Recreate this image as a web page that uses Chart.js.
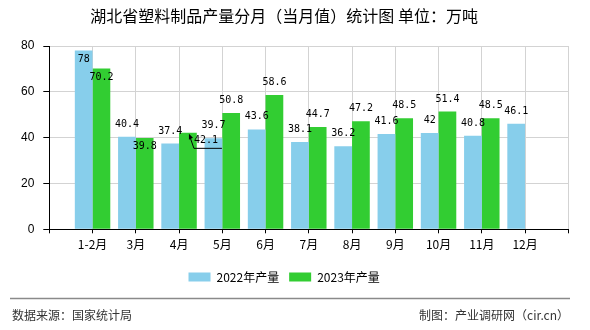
<html>
<head>
<meta charset="utf-8">
<script src="https://cdn.jsdelivr.net/npm/chart.js"></script>
<style>
  body { margin: 0; background: #fff; }
  #wrap { width: 590px; height: 330px; }
</style>
</head>
<body>
<div id="wrap"><canvas id="myChart" width="590" height="330"></canvas></div>
<script>
// months shown on the x axis
var categories = ['1-2月', '3月', '4月', '5月', '6月', '7月', '8月', '9月', '10月', '11月', '12月'];
// 湖北省塑料制品产量, 万吨
var output2022 = [78, 40.4, 37.4, 39.7, 43.6, 38.1, 36.2, 41.6, 42, 40.8, 46.1];
var output2023 = [70.2, 39.8, 42.1, 50.8, 58.6, 44.7, 47.2, 48.5, 51.4, 48.5, null];
var yTicks = [0, 20, 40, 60, 80];

// empty slot at both ends so the months sit on the grid lines
var labels = [''].concat(categories, ['']);
var pad = function(arr) { return [null].concat(arr, [null]); };

var cjk = '"Noto Sans CJK SC", "Noto Sans", sans-serif';

// value labels above the bars (some pushed inside / moved aside like the original)
var valueLabels = {
  id: 'valueLabels',
  afterDatasetsDraw: function(chart) {
    var ctx = chart.ctx;
    ctx.save();
    ctx.font = '10px "DejaVu Sans Mono", monospace';
    ctx.fillStyle = '#000';
    ctx.textAlign = 'center';
    ctx.textBaseline = 'middle';
    chart.data.datasets.forEach(function(ds, di) {
      var meta = chart.getDatasetMeta(di);
      meta.data.forEach(function(bar, i) {
        var v = ds.data[i];
        if (v === null || v === undefined) return;
        var place = ds.labelPlace[i - 1] || 'above';
        var x = bar.x, y = bar.y;
        if (place === 'inside') {
          ctx.fillText(String(v), x, y + 8.5);
        } else if (place === 'leader') {
          ctx.fillText(String(v), x + 18, y + 8);
          ctx.strokeStyle = '#000';
          ctx.lineWidth = 1;
          ctx.beginPath();
          ctx.moveTo(x + 2, y + 4);
          ctx.lineTo(x + 6, y + 15.5);
          ctx.lineTo(x + 34, y + 15.5);
          ctx.stroke();
          ctx.beginPath();
          ctx.moveTo(x + 1, y + 1);
          ctx.lineTo(x + 5, y + 5);
          ctx.lineTo(x + 1, y + 7);
          ctx.closePath();
          ctx.fill();
        } else {
          ctx.fillText(String(v), x, y - 12.5);
        }
      });
    });
    ctx.restore();
  }
};

// source line at the bottom
var footer = {
  id: 'footer',
  afterDraw: function(chart) {
    var ctx = chart.ctx;
    ctx.save();
    ctx.strokeStyle = '#8a8a8a';
    ctx.lineWidth = 1.5;
    ctx.beginPath();
    ctx.moveTo(10, 298.5);
    ctx.lineTo(570, 298.5);
    ctx.stroke();
    ctx.font = '12px ' + cjk;
    ctx.fillStyle = '#333';
    ctx.textBaseline = 'middle';
    ctx.textAlign = 'left';
    ctx.fillText('数据来源：国家统计局', 12, 315.5);
    ctx.textAlign = 'right';
    ctx.fillText('制图：产业调研网（cir.cn）', 569, 315.5);
    ctx.restore();
  }
};

var ctx = document.getElementById('myChart').getContext('2d');
var myChart = new Chart(ctx, {
  type: 'bar',
  data: {
    labels: labels,
    datasets: [
      {
        label: '2022年产量',
        data: pad(output2022),
        backgroundColor: '#87CEEB',
        labelPlace: ['inside', 'above', 'above', 'above', 'above', 'above', 'above', 'above', 'above', 'above', 'above']
      },
      {
        label: '2023年产量',
        data: pad(output2023),
        backgroundColor: '#32CD32',
        labelPlace: ['inside', 'inside', 'leader', 'above', 'above', 'above', 'above', 'above', 'above', 'above', 'above']
      }
    ]
  },
  options: {
    responsive: false,
    animation: false,
    layout: { padding: { left: 0, right: 21.7, top: 0, bottom: 37 } },
    datasets: { bar: { categoryPercentage: 0.82, barPercentage: 1 } },
    plugins: {
      title: {
        display: true,
        text: '湖北省塑料制品产量分月（当月值）统计图 单位：万吨',
        color: '#000',
        font: { family: cjk, size: 16, weight: 'normal' },
        padding: { top: 6.4, bottom: 20.4 }
      },
      legend: {
        position: 'bottom',
        labels: {
          boxWidth: 22,
          boxHeight: 9,
          padding: 10,
          color: '#000',
          font: { family: cjk, size: 12 }
        }
      },
      tooltip: { enabled: false }
    },
    scales: {
      x: {
        offset: false,
        grid: { offset: false, color: '#d3d3d3', tickColor: '#000', tickLength: 4 },
        border: { color: '#000', width: 1 },
        ticks: { autoSkip: false, maxRotation: 0, padding: 4, color: '#000', font: { family: cjk, size: 12 } },
        afterFit: function(scale) { scale.height = 31.7; }
      },
      y: {
        min: 0,
        max: 80,
        afterBuildTicks: function(scale) { scale.ticks = yTicks.map(function(v) { return { value: v }; }); },
        grid: { color: '#d3d3d3', tickColor: '#000', tickLength: 6 },
        border: { color: '#000', width: 1 },
        ticks: { padding: 9, color: '#000', font: { family: '"Liberation Sans", Arial, sans-serif', size: 12 } },
        afterFit: function(scale) { scale.width = 49.3; }
      }
    }
  },
  plugins: [valueLabels, footer]
});
</script>
</body>
</html>
